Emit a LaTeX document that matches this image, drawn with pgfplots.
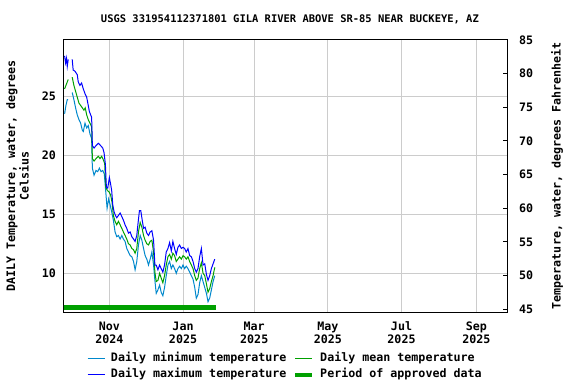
\documentclass[border=0pt]{standalone}
\usepackage{pgfplots}
\pgfplotsset{compat=1.18}
\usepackage{fontspec}
\setmainfont{DejaVu Sans Mono}
\definecolor{minc}{RGB}{0,136,204}
\definecolor{maxc}{RGB}{0,0,255}
\definecolor{meanc}{RGB}{0,160,0}
\definecolor{apprc}{RGB}{0,160,0}
\newcommand{\lbl}{\fontsize{11.7}{13.5}\selectfont\bfseries}
\begin{document}
\begin{tikzpicture}[x=1bp,y=1bp]
\useasboundingbox (-64,-71.7) rectangle (512,312.3);
\begin{axis}[
 at={(0,0)}, anchor=south west, scale only axis, width=443bp, height=273bp,
 xmin=-37.6, xmax=329.4, ymin=6.70, ymax=29.80,
 xtick={0,61,120,181,242,304},
 xticklabels={Nov\\2024,Jan\\2025,Mar\\2025,May\\2025,Jul\\2025,Sep\\2025},
 ytick={10,15,20,25}, ytick pos=left, xtick pos=bottom,
 tick style={draw=none},
 grid=major, grid style={color=gray!40, line width=1bp},
 axis line style={line width=1bp},
 ticklabel style={font=\lbl},
 xticklabel style={align=center, anchor=north, inner sep=0pt, yshift=-9bp},
 yticklabel style={anchor=east, inner sep=0pt, xshift=-8bp},
 /pgf/number format/assume math mode=true,
 ylabel={DAILY Temperature, water, degrees\\Celsius},
 ylabel style={font=\lbl, align=center, at={(axis description cs:-0.105,0.5)}, anchor=center},
 title={USGS 331954112371801 GILA RIVER ABOVE SR-85 NEAR BUCKEYE, AZ},
 every axis title shift=0pt,
 title style={font=\fontsize{10.5}{12}\selectfont\bfseries, at={(axis description cs:0.51,1.0744)}, anchor=center},
 unbounded coords=jump,
 legend columns=2,
 legend cell align=left,
 legend style={at={(axis description cs:0.0519,-0.1484)}, anchor=north west, draw=none, fill=none, inner sep=0pt, font=\lbl, row sep=5bp,
   nodes={inner sep=0pt, text height=8.5bp, text depth=2.5bp},
   /tikz/every odd column/.append style={column sep=5.8bp},
   /tikz/every even column/.append style={column sep=7bp}},
]
\addplot[minc, line width=1bp, forget plot] coordinates {
(-37.1,23.5)(-36.0,24.2)(-34.9,24.7)(-34.1,24.7)(-32.5,nan)(-30.8,25.3)(-29.4,24.7)(-28.0,24.0)(-26.6,23.4)(-25.2,23.0)(-23.8,22.7)(-22.4,22.1)(-21.6,22.0)(-20.2,22.7)(-18.8,22.3)(-17.5,22.5)(-16.1,21.8)(-14.7,21.4)(-14.1,18.9)(-12.7,18.3)(-11.1,18.7)(-9.7,18.6)(-8.3,18.9)(-6.9,18.6)(-5.5,18.7)(-4.2,18.4)(-3.0,16.9)(-1.9,15.5)(-0.6,16.3)(0.6,15.8)(1.9,15.2)(3.3,14.5)(4.7,13.5)(6.1,13.1)(7.5,13.2)(8.9,12.9)(10.3,13.2)(11.6,12.9)(13.0,12.7)(14.4,12.1)(15.8,11.8)(17.2,11.5)(18.6,11.4)(20.0,11.0)(21.3,10.3)(22.7,11.0)(24.1,12.4)(25.5,13.2)(26.9,12.8)(28.3,12.1)(29.6,11.5)(31.0,11.2)(32.4,10.7)(33.8,11.2)(35.2,11.8)(36.6,10.7)(37.7,9.4)(38.8,8.3)(40.2,8.6)(41.6,9.0)(42.9,8.4)(44.3,8.1)(45.7,8.8)(47.1,9.8)(48.5,10.7)(49.9,11.0)(51.3,10.4)(52.6,10.7)(54.0,10.4)(55.4,10.0)(56.8,10.4)(58.2,10.6)(59.6,10.4)(61.0,10.7)(62.3,10.4)(63.7,10.6)(65.1,10.4)(66.5,10.1)(67.9,9.8)(69.3,9.5)(70.7,8.8)(72.0,7.9)(73.4,8.2)(74.8,9.2)(76.2,9.8)(77.6,9.3)(79.0,8.8)(80.4,8.3)(81.7,7.6)(83.1,7.9)(84.5,8.6)(85.9,9.3)(87.3,9.8)
};
\addplot[meanc, line width=1bp, forget plot] coordinates {
(-37.1,25.6)(-36.0,25.9)(-34.1,26.4)(-32.5,nan)(-30.8,26.6)(-29.4,25.9)(-28.0,25.4)(-26.6,24.9)(-25.2,24.4)(-23.8,24.2)(-22.4,24.0)(-21.1,23.8)(-20.0,24.0)(-18.8,23.4)(-17.5,23.0)(-16.1,22.7)(-14.7,22.4)(-14.1,19.7)(-12.7,19.5)(-11.1,19.7)(-9.1,19.9)(-7.8,19.7)(-6.4,19.9)(-5.0,19.6)(-3.9,19.3)(-3.0,17.3)(-1.7,17.0)(-0.3,16.9)(1.1,16.6)(2.2,16.0)(3.3,14.9)(4.7,14.4)(6.1,14.1)(7.5,14.4)(8.9,14.1)(10.3,13.8)(11.6,13.5)(13.0,13.2)(14.4,12.9)(15.8,12.5)(17.2,12.4)(18.6,12.1)(20.0,12.0)(21.3,11.7)(22.7,12.1)(24.1,13.5)(25.5,14.3)(26.9,13.9)(28.3,13.2)(29.6,12.8)(31.0,12.5)(32.4,12.4)(33.8,12.7)(35.2,12.8)(36.6,11.8)(37.7,10.1)(38.8,9.3)(40.2,9.4)(41.6,10.0)(42.9,9.6)(44.3,9.2)(45.7,9.8)(47.1,10.7)(48.5,11.4)(49.9,11.6)(51.3,11.2)(52.6,11.7)(54.0,11.5)(55.4,11.0)(56.8,11.2)(58.2,11.4)(59.6,11.2)(61.0,11.5)(62.3,11.4)(63.7,11.2)(65.1,11.4)(66.5,11.0)(67.9,10.7)(69.3,10.4)(70.7,9.8)(72.0,9.4)(73.4,9.6)(74.8,10.4)(76.2,10.9)(77.6,10.0)(79.0,9.8)(80.4,9.1)(81.7,8.4)(83.1,8.7)(84.5,9.3)(85.9,9.8)(87.3,10.5)
};
\addplot[maxc, line width=1bp, forget plot] coordinates {
(-37.1,28.4)(-36.3,27.8)(-35.5,28.2)(-34.9,27.5)(-34.1,28.1)(-32.5,nan)(-30.8,28.1)(-30.0,27.2)(-28.5,27.1)(-26.6,26.8)(-25.8,26.2)(-24.4,25.9)(-23.0,26.1)(-21.6,25.6)(-20.2,25.2)(-18.8,24.9)(-17.5,24.2)(-16.6,23.7)(-15.5,23.4)(-14.7,23.2)(-14.1,20.8)(-12.7,20.6)(-11.1,20.8)(-9.1,21.0)(-7.2,20.8)(-5.5,20.6)(-4.4,20.2)(-3.3,19.2)(-2.5,17.3)(-1.4,17.2)(0,18.1)(1.1,17.5)(1.9,17.0)(2.8,15.8)(3.9,15.2)(5.0,14.9)(6.1,14.7)(7.5,14.9)(8.9,15.1)(10.3,14.8)(11.6,14.5)(13.0,14.1)(14.4,13.8)(15.8,13.4)(17.2,13.5)(18.6,13.1)(20.0,12.9)(21.3,12.7)(22.7,13.2)(23.8,14.3)(24.9,15.3)(26.0,15.3)(27.2,14.5)(28.3,13.8)(29.6,13.9)(31.0,13.4)(32.4,13.2)(33.8,13.5)(35.2,13.6)(36.6,12.8)(37.7,10.7)(38.8,10.7)(40.2,10.3)(41.6,10.7)(42.9,10.4)(44.3,10.1)(45.7,10.7)(47.1,11.8)(48.5,12.1)(49.9,12.6)(51.3,11.9)(52.6,12.7)(54.0,12.1)(55.4,11.6)(56.8,12.2)(58.2,12.4)(59.6,12.1)(61.0,12.2)(62.3,12.1)(63.7,11.8)(65.1,12.1)(66.5,11.5)(67.9,11.4)(69.3,11.0)(70.7,10.4)(72.0,10.1)(73.4,10.4)(74.8,11.4)(76.2,12.1)(77.6,10.7)(79.0,10.8)(80.4,9.9)(81.7,9.4)(83.1,9.8)(84.5,10.4)(85.9,10.8)(87.3,11.2)
};
\addplot[apprc, line width=4.5bp, forget plot] coordinates {(-38.5,7.09)(88.6,7.09)};
\addlegendimage{minc, line width=1bp}
\addlegendentry{Daily minimum temperature}
\addlegendimage{meanc, line width=1bp}
\addlegendentry{Daily mean temperature}
\addlegendimage{maxc, line width=1bp}
\addlegendentry{Daily maximum temperature}
\addlegendimage{apprc, line width=4bp}
\addlegendentry{Period of approved data}
\end{axis}
\begin{axis}[
 at={(0,0)}, anchor=south west, scale only axis, width=443bp, height=273bp,
 xmin=-37.6, xmax=329.4, ymin=44.55, ymax=85.1,
 axis x line=none, axis y line*=right,
 ytick={45,50,55,60,65,70,75,80,85},
 tick align=inside, major tick length=4bp, tick style={line width=1bp, black},
 yticklabel style={font=\lbl, anchor=west, inner sep=0pt, xshift=12bp},
 /pgf/number format/assume math mode=true,
 ylabel={Temperature, water, degrees Fahrenheit},
 ylabel style={font=\lbl, at={(axis description cs:1.113,0.5)}, anchor=center},
 axis line style={line width=1bp},
]
\end{axis}
\end{tikzpicture}
\end{document}
